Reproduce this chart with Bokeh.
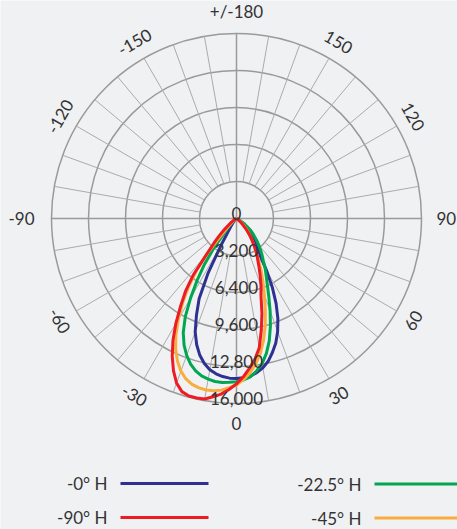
import numpy as np
from bokeh.plotting import figure
from bokeh.models import Range1d
from bokeh.embed import file_html
from bokeh.resources import INLINE
from bokeh.core.properties import value

# ---------------- data ----------------
ANGLES = [-65 + 2.5 * i for i in range(53)]   # -65 .. 65 deg, 0 = straight down

H0 = [0, 0, 0, 0, 0, 0,
      100, 200, 250, 300, 400, 600, 900, 1300,
      2700, 5300, 7650, 9050, 10450, 11450, 12250, 12850,
      13280, 13550, 13720, 13820, 13840,
      13790, 13680, 13450, 13120, 12650, 12000, 11300, 10400,
      9350, 8100, 6700, 5200, 3850, 3100, 2600, 2200,
      1800, 1500, 1150, 800, 450, 200, 50, 0,
      0, 0]
H22_5 = [0, 0, 0, 0, 0, 100,
         300, 500, 800, 1200, 1700, 3200, 4800, 6320,
         7950, 9600, 10900, 11850, 12600, 13200, 13650, 13950,
         14100, 14220, 14230, 14180, 14120,
         13980, 13750, 13300, 12740, 11950, 10950, 9750, 8500,
         7300, 6300, 5550, 4950, 4300, 3850, 3400, 3000,
         2600, 2200, 1900, 1580, 1200, 900, 600, 300,
         100, 0]
H45 = [0, 0, 0, 0, 0, 150,
       400, 700, 1100, 1900, 3900, 5700, 7250, 8700,
       10050, 11350, 12450, 13350, 14050, 14550, 14850, 15000,
       15060, 15020, 14900, 14650, 14400,
       13950, 13400, 12700, 11850, 10800, 9600, 8300, 7050,
       6000, 5100, 4200, 3400, 2900, 2400, 2000, 1650,
       1300, 1000, 750, 500, 250, 0, 0, 0,
       0, 0]
H90 = [0, 0, 0, 200, 400, 700,
       1000, 1450, 2100, 2900, 3950, 6100, 7700, 9000,
       10500, 11900, 13150, 14250, 15150, 15700, 15900, 15900,
       15850, 15550, 15250, 14800, 14300,
       13700, 13000, 12250, 11350, 9900, 8500, 7050, 6200,
       5350, 4600, 3950, 3500, 2900, 2400, 1950, 1500,
       1150, 800, 550, 300, 100, 0, 0, 0,
       0, 0]

SERIES = [H0, H22_5, H45, H90]
SERIES_NAMES = ["-0° H", "-22.5° H", "-45° H", "-90° H"]
SERIES_COLORS = ["#2e3192", "#00a651", "#f9ad3f", "#ed1c24"]

RADIAL_TICKS = [0, 3200, 6400, 9600, 12800, 16000]
RADIAL_LABELS = ["0", "3,200", "6,400", "9,600", "12,800", "16,000"]
RMAX = 16000

ANGLE_TICKS = [0, 30, 60, 90, 120, 150, 180, -150, -120, -90, -60, -30]
ANGLE_LABELS = ["0", "30", "60", "90", "120", "150", "+/-180",
                "-150", "-120", "-90", "-60", "-30"]

LEGEND_ORDER = ["-0° H", "-22.5° H", "-90° H", "-45° H"]

# ---------------- layout ----------------
W, H = 457, 529
CX, CY = 236, 218          # polar centre in page pixels (from top-left)
R_PX = 185.0               # outer ring radius in px
BG = "#f0f1f3"
TXT = "#333333"
FONT = "Lato"


def rpx(v):
    return np.asarray(v, dtype=float) / RMAX * R_PX


def polar_xy(theta_deg, r):
    t = np.radians(np.asarray(theta_deg, dtype=float))
    return r * np.sin(t), -r * np.cos(t)


p = figure(width=W, height=H, output_backend="svg", toolbar_location=None,
           x_range=Range1d(-CX, W - CX), y_range=Range1d(-(H - CY), CY),
           min_border=0, background_fill_color=BG, border_fill_color=BG,
           outline_line_color=None)
p.axis.visible = False
p.grid.visible = False

# rings
ring_r = rpx(RADIAL_TICKS[1:])
p.circle(x=[0] * len(ring_r), y=[0] * len(ring_r), radius=ring_r,
         fill_color=None, line_color="#9a9a9a", line_width=1.5)

# spokes
sp_x0, sp_y0, sp_x1, sp_y1 = [], [], [], []
for a in range(0, 360, 10):
    inner = 0.0 if a % 90 == 0 else rpx(RADIAL_TICKS[1])
    x0, y0 = polar_xy(a, inner)
    x1, y1 = polar_xy(a, R_PX)
    sp_x0.append(float(x0)); sp_y0.append(float(y0))
    sp_x1.append(float(x1)); sp_y1.append(float(y1))
main = [i for i, a in enumerate(range(0, 360, 10)) if a % 90 == 0]
minor = [i for i in range(len(sp_x0)) if i not in main]
p.segment(x0=[sp_x0[i] for i in minor], y0=[sp_y0[i] for i in minor],
          x1=[sp_x1[i] for i in minor], y1=[sp_y1[i] for i in minor],
          line_color="#ababab", line_width=1)
p.segment(x0=[sp_x0[i] for i in main], y0=[sp_y0[i] for i in main],
          x1=[sp_x1[i] for i in main], y1=[sp_y1[i] for i in main],
          line_color="#9a9a9a", line_width=1.5)

# series
for vals, col in zip(SERIES, SERIES_COLORS):
    xs, ys = polar_xy(ANGLES, rpx(vals))
    xs = np.concatenate([[0], xs, [0]])
    ys = np.concatenate([[0], ys, [0]])
    p.line(xs, ys, line_color=col, line_width=3, line_join="round")

common = dict(text_font=value(FONT), text_font_size="17px", text_color=TXT)

# radial labels
rl_y = [-float(rpx(v)) + 5 for v in RADIAL_TICKS]
p.text(x=[0] * len(rl_y), y=rl_y, text=RADIAL_LABELS, text_align="center",
       text_baseline="middle", **common)

# angle labels (rotated tangentially)
rot_x, rot_y, rot_t, rot_a = [], [], [], []
for a, lab in zip(ANGLE_TICKS, ANGLE_LABELS):
    if a in (0, 180, 90, -90):
        continue
    x, y = polar_xy(a, 204)
    rot = a if abs(a) < 90 else (a - 180 if a > 0 else a + 180)
    rot_x.append(float(x)); rot_y.append(float(y)); rot_t.append(lab)
    rot_a.append(float(np.radians(rot)))
p.text(x=rot_x, y=rot_y, text=rot_t, angle=rot_a, text_align="center",
       text_baseline="middle", **common)

lab = dict(zip(ANGLE_TICKS, ANGLE_LABELS))
x, y = polar_xy(180, 197)
p.text(x=[float(x)], y=[float(y)], text=[lab[180]], text_align="center",
       text_baseline="bottom", **common)
x, y = polar_xy(0, 198)
p.text(x=[float(x)], y=[float(y)], text=[lab[0]], text_align="center",
       text_baseline="top", **common)
x, y = polar_xy(90, 200)
p.text(x=[float(x)], y=[float(y)], text=[lab[90]], text_align="left",
       text_baseline="middle", **common)
x, y = polar_xy(-90, 202)
p.text(x=[float(x)], y=[float(y)], text=[lab[-90]], text_align="right",
       text_baseline="middle", **common)

# legend (manual: label left of the line, two columns)
leg_text_x = [-129, 125, -129, 125]
leg_y = [-265, -265.5, -299, -299.5]
leg_line = [(-116, -28), (138, 225), (-116, -28), (138, 225)]
for name, tx, ty, (lx0, lx1) in zip(LEGEND_ORDER, leg_text_x, leg_y, leg_line):
    col = SERIES_COLORS[SERIES_NAMES.index(name)]
    p.text(x=[tx], y=[ty], text=[name], text_align="right",
           text_baseline="middle", **common)
    p.segment(x0=[lx0], y0=[ty], x1=[lx1], y1=[ty], line_color=col,
              line_width=3)

open("out.html", "w").write(file_html(p, INLINE))
